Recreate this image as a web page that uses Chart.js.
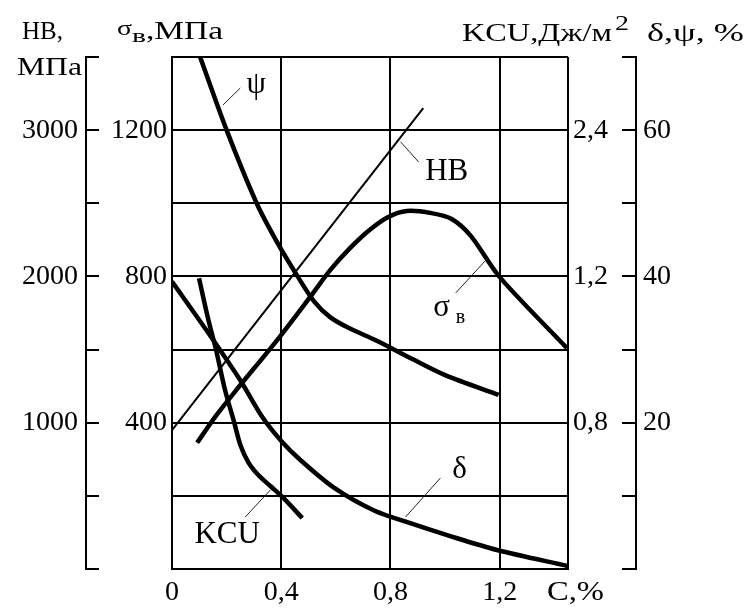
<!DOCTYPE html>
<html>
<head>
<meta charset="utf-8">
<script src="https://cdn.jsdelivr.net/npm/chart.js@4.4.1/dist/chart.umd.min.js"></script>
<style>
  html, body { margin: 0; padding: 0; background: #fff; }
  canvas { display: block; }
</style>
</head>
<body>
<canvas id="chart" width="749" height="608"></canvas>
<script>
// ============================================
// DATA (carbon content C, % on the x axis)
// ============================================

// psi, % (right outer axis)
const psiC   = [0.103, 0.2, 0.31, 0.38, 0.46, 0.52, 0.58, 0.65, 0.75, 0.88, 1.0, 1.196];
const psiVal = [70, 60, 50, 45, 40, 36.6, 34.4, 32.9, 31.2, 28.7, 26.5, 23.8];

// delta, % (right outer axis)
const deltaC   = [0, 0.125, 0.25, 0.33, 0.40, 0.47, 0.59, 0.74, 0.87, 1.01, 1.19, 1.45];
const deltaVal = [39.3, 32.7, 25.8, 20.8, 17.5, 14.9, 11.2, 8.0, 6.3, 4.6, 2.6, 0.4];

// sigma_v, MPa (left inner axis)
const sigmaC   = [0.092, 0.158, 0.235, 0.385, 0.506, 0.58, 0.65, 0.72, 0.79, 0.86, 0.95, 1.024, 1.094, 1.2, 1.446];
const sigmaVal = [345, 416, 489, 626, 744, 818, 876, 925, 962, 979, 973, 957, 911, 798, 604];

// HB, MPa (left outer axis)
const hbC   = [0, 0.92];
const hbVal = [950, 3150];

// KCU (right inner axis)
const kcuC   = [0.099, 0.132, 0.161, 0.194, 0.228, 0.25, 0.279, 0.316, 0.36, 0.404, 0.477];
const kcuVal = [1.59, 1.37, 1.20, 0.98, 0.80, 0.68, 0.585, 0.514, 0.454, 0.394, 0.279];

// Tick labels
const cTicks       = [0, 0.4, 0.8, 1.2];
const cTickLabels  = ['0', '0,4', '0,8', '1,2'];
const sigmaLabeled = [400, 800, 1200];
const hbLabeled    = [1000, 2000, 3000];
const kcuTicks      = [0.8, 1.6, 2.4];
const kcuTickLabels = ['0,8', '1,2', '2,4'];
const pctLabeled   = [20, 40, 60];

// Curve captions: [text, leader from (C, MPa), leader to (C, MPa), text at (C, MPa)]
const captions = [
    ['ψ',   [0.187, 1269], [0.25, 1315],  [0.308, 1323]],
    ['HB',  [0.837, 1168], [0.903, 1113], [1.006, 1086]],
    ['σ',   [1.156, 850],  [1.039, 755],  [0.987, 714]],
    ['δ',   [0.855, 142],  [0.983, 249],  [1.053, 271]],
    ['KCU', [0.360, 216],  [0.268, 142],  [0.202, 93]]
];

const FONT = 'Liberation Serif';
Chart.defaults.font.family = FONT;
Chart.defaults.font.size = 28;
Chart.defaults.color = '#000';

function pts(xs, ys) {
    return xs.map((x, i) => ({ x: x, y: ys[i] }));
}

function curve(xs, ys, axis, width) {
    return {
        data: pts(xs, ys),
        yAxisID: axis,
        borderColor: '#000',
        borderWidth: width,
        pointRadius: 0,
        fill: false,
        tension: 0.3
    };
}

// draw a string squeezed/stretched to a given width
function fitText(ctx, str, x, y, w, size) {
    ctx.font = size + 'px "' + FONT + '"';
    const m = ctx.measureText(str).width;
    ctx.save();
    ctx.translate(x, y);
    ctx.scale(w / m, 1);
    ctx.fillText(str, 0, 0);
    ctx.restore();
}

// ============================================
// PLUGINS
// ============================================
const sideAxes = {
    id: 'sideAxes',
    afterDraw(chart) {
        const ctx = chart.ctx;
        const { top, bottom } = chart.chartArea;
        ctx.save();
        ctx.strokeStyle = '#000';
        ctx.lineWidth = 2;

        // HB axis: line with ticks pointing to the plot
        const hb = chart.scales.yHB;
        const xl = Math.round(hb.right - 14);
        ctx.beginPath();
        ctx.moveTo(xl, top - 1);
        ctx.lineTo(xl, bottom + 1);
        hb.ticks.forEach(t => {
            const y = Math.round(hb.getPixelForValue(t.value));
            ctx.moveTo(xl, y);
            ctx.lineTo(xl + 13, y);
        });
        ctx.stroke();

        // delta, psi axis
        const pc = chart.scales.yPct;
        const xr = Math.round(pc.left + 14);
        ctx.beginPath();
        ctx.moveTo(xr, top - 1);
        ctx.lineTo(xr, bottom + 1);
        pc.ticks.forEach(t => {
            const y = Math.round(pc.getPixelForValue(t.value));
            ctx.moveTo(xr, y);
            ctx.lineTo(xr - 14, y);
        });
        ctx.stroke();
        ctx.restore();
    }
};

const texts = {
    id: 'texts',
    afterDraw(chart) {
        const ctx = chart.ctx;
        const x = chart.scales.x;
        const s = chart.scales.ySigma;
        ctx.save();
        ctx.fillStyle = '#000';
        ctx.textBaseline = 'alphabetic';
        ctx.textAlign = 'left';

        // axis titles
        fitText(ctx, 'HB,', 22, 39, 41, 25);
        fitText(ctx, 'МПа', 17, 75, 65, 25);
        fitText(ctx, 'σ', 117, 35, 15, 22);
        fitText(ctx, 'в', 132, 42, 14, 18);
        fitText(ctx, ',МПа', 146, 39, 77, 25);
        fitText(ctx, 'KCU,Дж/м', 462, 41, 150, 25);
        fitText(ctx, '2', 615, 30, 14, 21);
        fitText(ctx, 'δ,ψ, %', 647, 41, 97, 25);
        fitText(ctx, 'C,%', 547, 600, 57, 28);

        // curve captions
        ctx.strokeStyle = '#222';
        ctx.lineWidth = 1;
        ctx.font = '31px "' + FONT + '"';
        captions.forEach(c => {
            ctx.beginPath();
            ctx.moveTo(x.getPixelForValue(c[1][0]), s.getPixelForValue(c[1][1]));
            ctx.lineTo(x.getPixelForValue(c[2][0]), s.getPixelForValue(c[2][1]));
            ctx.stroke();
            ctx.textAlign = 'center';
            ctx.textBaseline = 'middle';
            const tx = x.getPixelForValue(c[3][0]);
            const ty = s.getPixelForValue(c[3][1]);
            ctx.fillText(c[0], tx, ty);
            if (c[0] === 'σ') {
                ctx.font = '20px "' + FONT + '"';
                ctx.fillText('в', tx + 19, ty + 10);
                ctx.font = '31px "' + FONT + '"';
            }
        });
        ctx.restore();
    }
};

// ============================================
// CHART
// ============================================
const ctx = document.getElementById('chart');
const chart = new Chart(ctx.getContext('2d'), {
    type: 'line',
    data: {
        datasets: [
            curve(psiC, psiVal, 'yPct', 4.5),
            curve(deltaC, deltaVal, 'yPct', 4.5),
            curve(sigmaC, sigmaVal, 'ySigma', 4.5),
            curve(hbC, hbVal, 'yHB', 2),
            curve(kcuC, kcuVal, 'yKCU', 4.5)
        ]
    },
    options: {
        responsive: false,
        animation: false,
        layout: { padding: { top: 57, left: 0, right: 0, bottom: 0 } },
        plugins: {
            legend: { display: false },
            tooltip: { enabled: false }
        },
        scales: {
            x: {
                type: 'linear',
                min: 0,
                max: 1.45,
                afterFit: s => { s.height = 39; },
                afterBuildTicks: s => {
                    s.ticks = cTicks.concat([1.45]).map(v => ({ value: v }));
                },
                ticks: {
                    autoSkip: false,
                    maxRotation: 0,
                    padding: 7,
                    callback: v => {
                        const i = cTicks.findIndex(t => Math.abs(t - v) < 1e-6);
                        return i >= 0 ? cTickLabels[i] : '';
                    }
                },
                grid: { color: '#000', lineWidth: 2, drawTicks: false },
                border: { color: '#000', width: 2 }
            },
            ySigma: {
                type: 'linear',
                position: 'left',
                weight: 0,
                min: 0,
                max: 1400,
                afterFit: s => { s.width = 72; },
                ticks: {
                    stepSize: 200,
                    autoSkip: false,
                    padding: 5,
                    callback: v => sigmaLabeled.includes(v) ? String(v) : ''
                },
                grid: { color: '#000', lineWidth: 2, drawTicks: false },
                border: { color: '#000', width: 2 }
            },
            yHB: {
                type: 'linear',
                position: 'left',
                weight: 1,
                min: 0,
                max: 3500,
                afterFit: s => { s.width = 100; },
                ticks: {
                    stepSize: 500,
                    autoSkip: false,
                    padding: 22,
                    callback: v => hbLabeled.includes(v) ? String(v) : ''
                },
                grid: { display: false, drawTicks: false },
                border: { display: false }
            },
            yKCU: {
                type: 'linear',
                position: 'right',
                weight: 0,
                min: 0,
                max: 2.8,
                afterFit: s => { s.width = 54; },
                afterBuildTicks: s => {
                    s.ticks = kcuTicks.map(v => ({ value: v }));
                },
                ticks: {
                    autoSkip: false,
                    padding: 5,
                    callback: (v, i) => kcuTickLabels[i]
                },
                grid: { display: false, drawTicks: false },
                border: { display: false }
            },
            yPct: {
                type: 'linear',
                position: 'right',
                weight: 1,
                min: 0,
                max: 70,
                afterFit: s => { s.width = 127; },
                ticks: {
                    stepSize: 10,
                    autoSkip: false,
                    padding: 21,
                    callback: v => pctLabeled.includes(v) ? String(v) : ''
                },
                grid: { display: false, drawTicks: false },
                border: { display: false }
            }
        }
    },
    plugins: [sideAxes, texts]
});
</script>
</body>
</html>
